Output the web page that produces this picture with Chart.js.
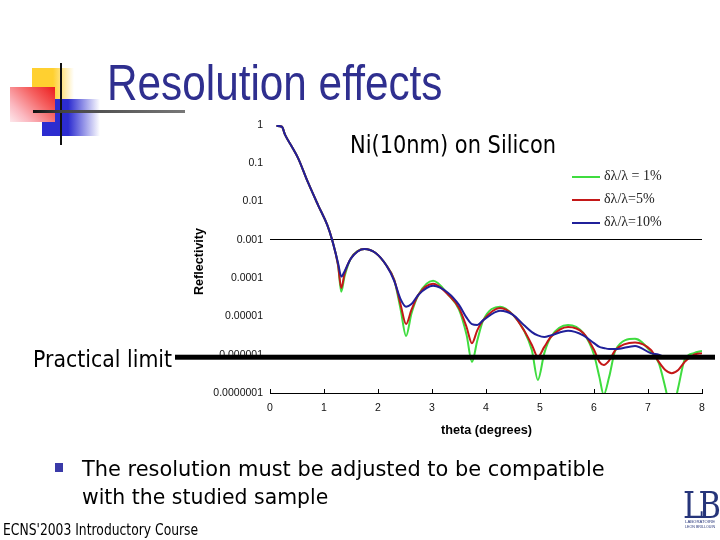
<!DOCTYPE html>
<html>
<head>
<meta charset="utf-8">
<script src="https://cdn.jsdelivr.net/npm/chart.js@4.4.0/dist/chart.umd.min.js"></script>
<style>
  html, body { margin: 0; padding: 0; background: #fff; }
  #slide { position: relative; width: 720px; height: 540px; overflow: hidden; background: #fff; }
  #chart { position: absolute; left: 0; top: 0; }
  .txt { position: absolute; white-space: nowrap; line-height: 1; transform-origin: 0 0; }
  .deco { position: absolute; }
  .leg-line { position: absolute; width: 28px; height: 2px; }
</style>
</head>
<body>
<div id="slide">
  <!-- decoration top left -->
  <div class="deco" style="left:32px;top:68px;width:42px;height:31px;background:linear-gradient(to right,#ffd030 0%,#ffd030 50%,rgba(255,215,80,0) 100%)"></div>
  <div class="deco" style="left:42px;top:99px;width:58px;height:37px;background:linear-gradient(to right,#2c2cd0 0%,#2c2cd0 45%,rgba(60,60,220,0) 100%)"></div>
  <div class="deco" style="left:10px;top:87px;width:45px;height:35px;background:linear-gradient(225deg,#ec1c1c 0%,#f56060 35%,#fbb8c0 75%,#fde8ec 100%)"></div>
  <div class="deco" style="left:60px;top:63px;width:2px;height:82px;background:#111"></div>
  <div class="deco" style="left:33px;top:110px;width:152px;height:3px;background:linear-gradient(to right,#111 0%,#444 20%,#777 100%)"></div>

  <canvas id="chart" width="720" height="540"></canvas>

  <div class="txt" data-w="336" style="left:107px;top:58px;font-family:'Liberation Sans';font-size:50px;color:#2f2f8f">Resolution effects</div>
  <div class="txt" data-w="206" style="left:350px;top:133px;font-family:'DejaVu Sans';font-size:24px;color:#000">Ni(10nm) on Silicon</div>
  <div class="txt" data-w="139" style="left:33px;top:348px;font-family:'DejaVu Sans';font-size:23px;color:#000">Practical limit</div>
  <div class="txt" data-w="67" style="left:193px;top:295px;font-family:'Liberation Sans';font-weight:bold;font-size:12px;color:#000;transform:rotate(-90deg)">Reflectivity</div>
  <div class="txt" data-w="91" style="left:441px;top:424px;font-family:'Liberation Sans';font-weight:bold;font-size:12px;color:#000">theta (degrees)</div>

  <div class="deco" style="left:55px;top:463px;width:8px;height:9px;background:#3a3aa8"></div>
  <div class="txt" data-w="523" style="left:82px;top:458px;font-family:'DejaVu Sans';font-size:22px;color:#000">The resolution must be adjusted to be compatible</div>
  <div class="txt" data-w="246" style="left:82px;top:486px;font-family:'DejaVu Sans';font-size:22px;color:#000">with the studied sample</div>
  <div class="txt" data-w="195" style="left:3px;top:523px;font-family:'DejaVu Sans';font-size:15px;color:#000">ECNS'2003 Introductory Course</div>

  <!-- logo -->
  <div class="txt" data-w="33" style="left:683px;top:486px;font-family:'DejaVu Serif';font-size:38px;color:#26357a;letter-spacing:-6px">LB</div>
  <div class="txt" data-w="30" style="left:685px;top:520px;font-family:'Liberation Sans';font-size:4px;color:#26357a">LABORATOIRE</div>
  <div class="txt" data-w="30" style="left:685px;top:525px;font-family:'Liberation Sans';font-size:4px;color:#26357a">LEON BRILLOUIN</div>

  <div id="legend"></div>
</div>

<script>
// Data
const theta = [0.12, 0.22, 0.28, 0.4, 0.52, 0.7, 0.89, 1.06, 1.15, 1.26, 1.32, 1.38, 1.5, 1.75, 1.95,
  2.15, 2.3, 2.42, 2.52, 2.62, 2.75, 3.02, 3.3, 3.5, 3.64, 3.74, 3.84, 3.95, 4.26, 4.5, 4.7, 4.85,
  4.96, 5.08, 5.2, 5.52, 5.8, 6.0, 6.1, 6.18, 6.28, 6.4, 6.76, 7.05, 7.2, 7.32, 7.44, 7.56, 7.68, 7.85, 8.0];

// dl/l = 1%
const reflGreen = [0.95, 0.9, 0.55, 0.28, 0.137, 0.0325, 0.0081, 0.00245, 1e-3, 2.2e-4, 4.4e-5, 1.1e-4, 3.3e-4, 5.8e-4, 4.6e-4,
  2.2e-4, 9.0e-5, 1.5e-5, 3.1e-6, 1.2e-5, 3.7e-5, 8.5e-5, 3.7e-5, 1.5e-5, 3.3e-6, 6.5e-7, 2.4e-6, 8e-6, 1.8e-5, 1.1e-5, 4.4e-6, 1.3e-6,
  2.2e-7, 1.1e-6, 2.9e-6, 6e-6, 3.7e-6, 1e-6, 2.6e-7, 9e-8, 2.6e-7, 1.35e-6, 2.6e-6, 1.2e-6, 6e-7, 1.4e-7, 3e-8, 1.4e-7, 7.5e-7, 1.1e-6, 1.26e-6];

// dl/l = 5%
const reflRed = [0.95, 0.9, 0.55, 0.28, 0.137, 0.0325, 0.0081, 0.00245, 1e-3, 2.2e-4, 5.5e-5, 1.3e-4, 3.3e-4, 5.8e-4, 4.6e-4,
  2.2e-4, 9.0e-5, 2e-5, 6.3e-6, 1.5e-5, 3.7e-5, 7.1e-5, 3.7e-5, 1.66e-5, 5.3e-6, 2e-6, 4.4e-6, 8e-6, 1.66e-5, 1.1e-5, 4.4e-6, 1.8e-6,
  8.8e-7, 1.6e-6, 2.9e-6, 5.3e-6, 3.7e-6, 1.35e-6, 6.5e-7, 5.4e-7, 7e-7, 1.35e-6, 2.1e-6, 1.35e-6, 6.5e-7, 4e-7, 3.3e-7, 4e-7, 6.5e-7, 1e-6, 1.1e-6];

// dl/l = 10%
const reflBlue = [0.95, 0.9, 0.55, 0.28, 0.137, 0.0325, 0.0081, 0.00245, 1e-3, 2.5e-4, 1.1e-4, 1.5e-4, 3.3e-4, 5.8e-4, 4.6e-4,
  2.2e-4, 8.5e-5, 2.8e-5, 1.8e-5, 2.1e-5, 3.7e-5, 6.3e-5, 4.1e-5, 2e-5, 9.3e-6, 6.3e-6, 6e-6, 8e-6, 1.4e-5, 1.1e-5, 6e-6, 3.9e-6,
  3.2e-6, 2.9e-6, 3.2e-6, 4.2e-6, 3.2e-6, 2e-6, 1.6e-6, 1.5e-6, 1.4e-6, 1.4e-6, 1.7e-6, 1.1e-6, 1e-6, 8.7e-7, 8.3e-7, 8.3e-7, 8.3e-7, 8.5e-7, 8.7e-7];

const seriesNames = ["δλ/λ = 1%", "δλ/λ=5%", "δλ/λ=10%"];
const seriesColors = ["#3fdc3f", "#c41818", "#20209a"];

const yTickValues = [1e-7, 1e-6, 1e-5, 1e-4, 1e-3, 1e-2, 0.1, 1];
const yTickLabels = ["0.0000001", "0.000001", "0.00001", "0.0001", "0.001", "0.01", "0.1", "1"];
const practicalLimit = 1e-6;

// Build x/y points for one series
function toPoints(values) {
  return theta.map((t, i) => ({ x: t, y: values[i] }));
}

// Thick black "practical limit" line, runs out past the plot on both sides
const limitLine = {
  id: "limitLine",
  afterDraw(chart) {
    const ctx = chart.ctx;
    const area = chart.chartArea;
    const y = chart.scales.y.getPixelForValue(practicalLimit);
    ctx.save();
    ctx.fillStyle = "#000";
    ctx.fillRect(area.left - 95, y, area.right - area.left + 108, 5);
    ctx.restore();
  }
};

const allSeries = [reflGreen, reflRed, reflBlue];

new Chart(document.getElementById("chart"), {
  type: "line",
  data: {
    datasets: allSeries.map((vals, i) => ({
      label: seriesNames[i],
      data: toPoints(vals),
      borderColor: seriesColors[i],
      backgroundColor: seriesColors[i],
      borderWidth: 2,
      pointRadius: 0,
      cubicInterpolationMode: "monotone",
      order: 2 - i
    }))
  },
  options: {
    responsive: false,
    animation: false,
    layout: { padding: { left: 0, top: 125, right: 18, bottom: 0 } },
    plugins: { legend: { display: false }, tooltip: { enabled: false } },
    scales: {
      x: {
        type: "linear",
        min: 0,
        max: 8,
        afterFit: s => { s.height = 147; },
        ticks: { stepSize: 1, padding: 13, color: "#111", font: { family: "Liberation Sans", size: 10.5 } },
        grid: { drawOnChartArea: false, drawTicks: true, tickLength: -4, color: "#000" },
        border: { display: true, color: "#000", width: 1 }
      },
      y: {
        type: "logarithmic",
        min: 1e-7,
        max: 1,
        afterFit: s => { s.width = 270; },
        afterBuildTicks: s => { s.ticks = yTickValues.map(v => ({ value: v })); },
        ticks: {
          autoSkip: false,
          padding: 7,
          color: "#111",
          font: { family: "Liberation Sans", size: 10.5 },
          callback: (v, i) => yTickLabels[i]
        },
        grid: {
          drawTicks: false,
          color: c => (c.tick && c.tick.value === 1e-3) ? "#000" : "rgba(0,0,0,0)"
        },
        border: { display: false }
      }
    }
  },
  plugins: [limitLine]
});

// Legend inside the plot
const legend = document.getElementById("legend");
seriesNames.forEach((name, i) => {
  const top = 176 + i * 23;
  const line = document.createElement("div");
  line.className = "leg-line";
  line.style.left = "572px";
  line.style.top = top + "px";
  line.style.background = seriesColors[i];
  legend.appendChild(line);

  const label = document.createElement("div");
  label.className = "txt";
  label.textContent = name;
  label.style.left = "604px";
  label.style.top = (top - 7) + "px";
  label.style.fontFamily = "'Liberation Serif'";
  label.style.fontSize = "14px";
  label.style.color = "#222";
  legend.appendChild(label);
});

// Squeeze text to the widths seen in the reference
document.querySelectorAll("[data-w]").forEach(el => {
  const rot = el.style.transform || "";
  el.style.transform = "none";
  const w = el.offsetWidth;
  const k = el.dataset.w / w;
  el.style.transform = (rot ? rot + " " : "") + "scaleX(" + k.toFixed(3) + ")";
});
</script>
</body>
</html>
